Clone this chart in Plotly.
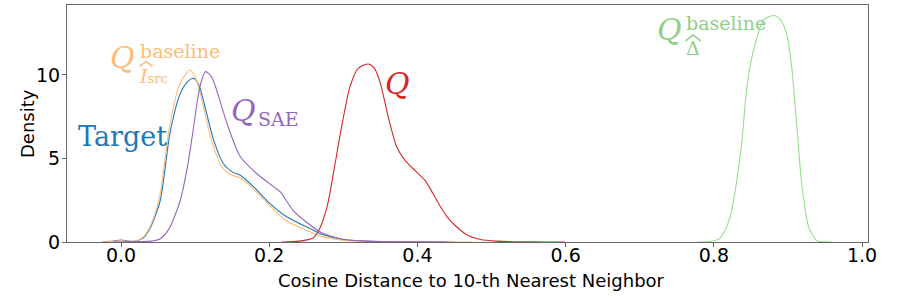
import plotly.graph_objects as go

# ---- data ----
target_x = [-0.025, -0.01, 0.0, 0.01, 0.02, 0.03, 0.04, 0.053, 0.066, 0.08, 0.09, 0.0976, 0.105, 0.111, 0.125, 0.138, 0.15, 0.161, 0.179, 0.201, 0.224, 0.259, 0.269, 0.30, 0.35, 0.40, 0.45]
target_y = [0, 0.05, 0.12, 0.05, 0.05, 0.25, 0.9, 2.5, 6.5, 8.9, 9.6, 9.8, 9.4, 8.5, 6.1, 4.7, 4.2, 4.0, 3.3, 2.3, 1.5, 0.72, 0.5, 0.15, 0.03, 0.01, 0]

isrc_x = [-0.025, -0.01, 0.0, 0.01, 0.02, 0.03, 0.04, 0.052, 0.065, 0.078, 0.088, 0.093, 0.1, 0.108, 0.122, 0.136, 0.15, 0.16, 0.178, 0.2, 0.222, 0.258, 0.27, 0.30, 0.35, 0.40, 0.475]
isrc_y = [0, 0.04, 0.08, 0.04, 0.06, 0.3, 1.0, 2.7, 6.8, 9.3, 10.1, 10.3, 9.9, 8.7, 6.1, 4.5, 4.0, 3.85, 3.2, 2.2, 1.3, 0.55, 0.35, 0.1, 0.02, 0.01, 0]

sae_x = [-0.01, 0.02, 0.04, 0.053, 0.065, 0.08, 0.09, 0.098, 0.106, 0.114, 0.122, 0.129, 0.143, 0.161, 0.183, 0.206, 0.215, 0.232, 0.25, 0.269, 0.287, 0.305, 0.33, 0.36, 0.40, 0.44]
sae_y = [0, 0.02, 0.05, 0.2, 0.8, 2.5, 4.6, 6.9, 9.2, 10.2, 9.9, 9.1, 7.1, 5.1, 4.1, 3.3, 3.0, 1.9, 1.2, 0.6, 0.3, 0.12, 0.05, 0.02, 0.01, 0]

q_x = [0.217, 0.24, 0.259, 0.268, 0.278, 0.287, 0.296, 0.309, 0.32, 0.334, 0.342, 0.350, 0.36, 0.372, 0.383, 0.394, 0.41, 0.421, 0.43, 0.44, 0.453, 0.467, 0.485, 0.507, 0.54, 0.57, 0.599]
q_y = [0, 0.05, 0.24, 0.8, 2.1, 4.2, 6.5, 9.3, 10.4, 10.66, 10.4, 9.5, 7.6, 5.7, 4.9, 4.4, 3.7, 2.9, 2.2, 1.5, 0.9, 0.42, 0.15, 0.05, 0.01, 0.003, 0]

delta_x = [0.779, 0.795, 0.808, 0.815, 0.822, 0.831, 0.838, 0.844, 0.85, 0.856, 0.862, 0.867, 0.875, 0.883, 0.89, 0.898, 0.905, 0.912, 0.919, 0.928, 0.939, 0.95, 0.959]
delta_y = [0, 0.03, 0.22, 0.7, 1.5, 3.7, 6.1, 9.1, 10.8, 11.9, 12.8, 13.3, 13.5, 13.55, 13.3, 12.5, 10.5, 6.9, 3.3, 0.9, 0.08, 0.01, 0]

x_ticks = [0.0, 0.2, 0.4, 0.6, 0.8, 1.0]
x_tick_labels = ["0.0", "0.2", "0.4", "0.6", "0.8", "1.0"]
y_ticks = [0, 5, 10]
y_tick_labels = ["0", "5", "10"]
x_title = "Cosine Distance to 10-th Nearest Neighbor"
y_title = "Density"

C_BLUE = "#1f77b4"
C_ORANGE = "#ffbb78"
C_PURPLE = "#9467bd"
C_RED = "#d62728"
C_GREEN = "#98df8a"
T_GREEN = "#8fcf88"

fig = go.Figure()
series = [
    (target_x, target_y, C_BLUE, "Target"),
    (isrc_x, isrc_y, C_ORANGE, "Q_Isrc"),
    (sae_x, sae_y, C_PURPLE, "Q_SAE"),
    (q_x, q_y, C_RED, "Q"),
    (delta_x, delta_y, C_GREEN, "Q_Delta"),
]
for xs, ys, col, name in series:
    fig.add_trace(go.Scatter(x=xs, y=ys, mode="lines", name=name,
                             line=dict(color=col, width=1.1, shape="spline", smoothing=0.7),
                             showlegend=False, hoverinfo="skip"))

X0, X1 = -0.0729, 1.008
Y0, Y1 = 0, 14.19
W, H = 900, 302
ML, MR, MT, MB = 67, 32, 5, 60

def P(xp, yp):
    return ((xp - 121) / 741.0, (242 - yp) / 16.7)

def PP(xp, yp):
    return ((xp - ML) / (W - ML - MR), (H - MB - yp) / (H - MT - MB))

SERIF = "DejaVu Serif"
def label(xp, yp, text, color, size, italic=False, xanchor="center", align="center"):
    x, y = P(xp, yp)
    fig.add_annotation(x=x, y=y, xref="x", yref="y", text=(f"<i>{text}</i>" if italic else text),
                       showarrow=False, xanchor=xanchor, yanchor="middle", align=align,
                       font=dict(family=SERIF, size=size, color=color))

def hat(xc, yc, w, h, color):
    x0, y0 = P(xc - w / 2, yc + h / 2)
    xm, ym = P(xc, yc - h / 2)
    x1, y1 = P(xc + w / 2, yc + h / 2)
    fig.add_shape(type="path", path=f"M {x0} {y0} L {xm} {ym} L {x1} {y1}",
                  xref="x", yref="y", line=dict(color=color, width=1.6))

# Target
label(122, 137, "Target", C_BLUE, 27)
# Q^baseline_{I_src}
label(122, 58, "Q", C_ORANGE, 30, italic=True)
label(137, 64, "baseline<br><i>I</i><span style='font-size:13px'>src</span>", C_ORANGE, 19,
      xanchor="left", align="left")
hat(146, 64, 13, 5, C_ORANGE)
# Q_SAE
label(243, 111, "Q", C_PURPLE, 30, italic=True)
label(256, 119, "SAE", C_PURPLE, 19, xanchor="left")
# Q
label(397, 84, "Q", C_RED, 30, italic=True)
# Q^baseline_Delta
label(669, 30, "Q", T_GREEN, 30, italic=True)
label(684, 36, "baseline<br>\u0394", T_GREEN, 19, xanchor="left", align="left")
hat(693, 38, 15, 6, T_GREEN)

# axis titles
tx, ty = PP(471, 280)
fig.add_annotation(x=tx, y=ty, xref="paper", yref="paper", text=x_title,
                   showarrow=False, xanchor="center", yanchor="middle",
                   font=dict(family="DejaVu Sans", size=18, color="black"))
tx, ty = PP(27, 124)
fig.add_annotation(x=tx, y=ty, xref="paper", yref="paper", text=y_title, textangle=-90,
                   showarrow=False, xanchor="center", yanchor="middle",
                   font=dict(family="DejaVu Sans", size=18, color="black"))

AX = "#666666"
fig.update_xaxes(range=[X0, X1], tickvals=x_ticks, ticktext=x_tick_labels, automargin=False,
                 showgrid=False, zeroline=False, showline=True, linecolor=AX, linewidth=1,
                 mirror=True, ticks="outside", ticklen=4, tickcolor=AX, ticklabelstandoff=-8,
                 tickfont=dict(family="DejaVu Sans", size=19, color="black"))
fig.update_yaxes(range=[Y0, Y1], tickvals=y_ticks, ticktext=y_tick_labels, automargin=False,
                 showgrid=False, zeroline=False, showline=True, linecolor=AX, linewidth=1,
                 mirror=True, ticks="outside", ticklen=4, tickcolor=AX, ticklabelstandoff=-2,
                 tickfont=dict(family="DejaVu Sans", size=19, color="black"))
fig.update_layout(width=W, height=H, margin=dict(l=ML, r=MR, t=MT, b=MB),
                  plot_bgcolor="white", paper_bgcolor="white")
fig.write_html("out.html", config={"displayModeBar": False},
               post_script="document.body.style.margin='0';document.body.style.overflow='hidden';")
